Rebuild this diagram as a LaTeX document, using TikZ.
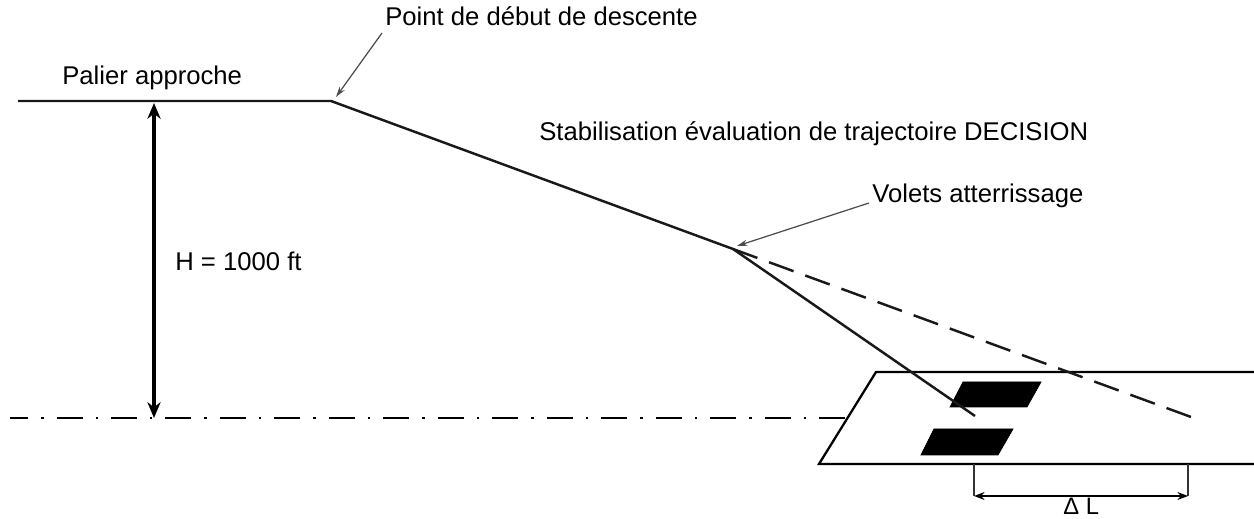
\documentclass[tikz,border=0pt]{standalone}
\usepackage{fontspec}
\setmainfont{Liberation Sans}
\usetikzlibrary{arrows.meta, positioning}

\begin{document}
\begin{tikzpicture}[
    x=0.02cm, y=-0.02cm,
    lbl/.style={font=\fontsize{14.6pt}{16pt}\selectfont, inner sep=0pt, anchor=base west},
    lblsmall/.style={lbl, font=\fontsize{13.5pt}{14pt}\selectfont},
    path/.style={line width=1.4pt, color=black!90},
    pathdash/.style={path, dash pattern=on 14.8pt off 7.1pt},
    axisline/.style={line width=1.3pt, dash pattern=on 14.8pt off 7.4pt on 1.4pt off 7.4pt, dash phase=4.5pt},
    strip/.style={line width=1.3pt},
    pad/.style={fill=black},
    thinarr/.style={-{Stealth[length=6pt,width=3.5pt]}, line width=0.7pt, color=black!70},
    dim/.style={{Stealth[length=6pt,width=4.5pt]}-{Stealth[length=6pt,width=4.5pt]}, line width=1.3pt},
    height/.style={{Stealth[length=9pt,width=7.5pt]}-{Stealth[length=9pt,width=7.5pt]}, line width=2pt},
    tick/.style={line width=0.7pt, color=black!80},
]
\useasboundingbox (0,0) rectangle (1254,519);

% TRAJECTORY
\coordinate (start) at (18,101);
\coordinate (descent) at (331,101);
\coordinate (flaps) at (733,249);
\coordinate (touch) at (975,416);
\coordinate (touchlong) at (1191,417);

% RUNWAY
\coordinate (rwytl) at (876,372);
\coordinate (rwytr) at (1254,372);
\coordinate (rwybl) at (819,464);
\coordinate (rwybr) at (1254,464);
\coordinate (dimleft) at (974,464);
\coordinate (dimright) at (1188,464);
\coordinate (dimleftb) at (974,496);
\coordinate (dimrightb) at (1188,496);

\draw[strip] (rwytr) -- (rwytl) -- (rwybl) -- (rwybr);
\draw[pad] (963,382) -- (1041,382) -- (1027,407) -- (950,407) -- cycle;
\draw[pad] (934,429) -- (1013,429) -- (998,455) -- (921,455) -- cycle;

% Ground line
\coordinate (axisstart) at (10,418);
\coordinate (axisend) at (846,418);
\coordinate (axisfoot) at (154,418);
\coordinate (axistop) at (154,103);
\draw[axisline] (axisstart) -- (axisend);

\draw[path] (start) -- (descent) -- (flaps) -- (touch);
\draw[pathdash] (flaps) -- (touchlong);

\draw[height] (axistop) -- (axisfoot);
\draw[tick] (dimleft) -- (dimleftb);
\draw[tick] (dimright) -- (dimrightb);
\draw[dim] (dimleftb) -- (dimrightb);

% Labels
\node[lbl] (palier) at (62,85) {Palier approche};
\node[lbl] (point) at (385,26) {Point de début de descente};
\node[lbl] (stab) at (539,141) {Stabilisation évaluation de trajectoire DECISION};
\node[lbl] (volets) at (872,203) {Volets atterrissage};
\node[lbl] (hauteur) at (175,271) {H = 1000 ft};
\node[lblsmall] (delta) at (1063,515) {Δ L};

% Leaders
\coordinate (pointtail) at (382,33);
\coordinate (pointtip) at (336,97);
\coordinate (voletstail) at (869,203);
\coordinate (voletstip) at (737,246);
\draw[thinarr] (pointtail) -- (pointtip);
\draw[thinarr] (voletstail) -- (voletstip);

\end{tikzpicture}
\end{document}
